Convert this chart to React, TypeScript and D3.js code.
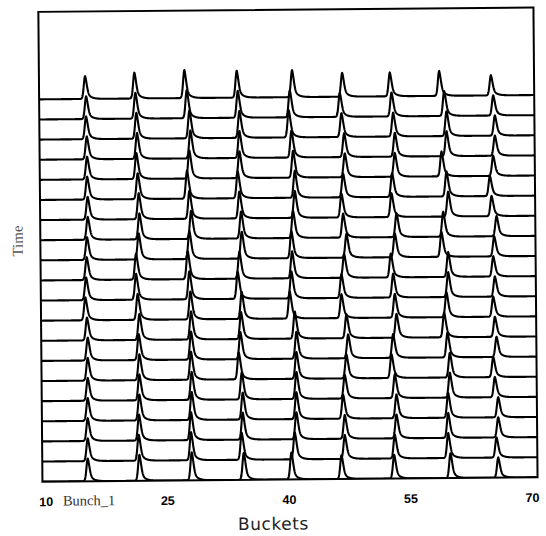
import React from 'react';
import * as d3 from 'd3';

// Tick labels on the bucket axis
const tickValues = [10, 25, 40, 55, 70];
const bunchLabel = 'Bunch_1';
const xTitle = 'Buckets';
const yTitle = 'Time';

// Relative peak heights of the nine bunches
const peakHeights = [0.88, 1.0, 1.08, 1.04, 1.04, 0.92, 0.92, 0.96, 0.78];

// Peak centre (in buckets) of each bunch, one entry per time trace (top -> bottom)
const bunch1 = [15.25, 15.36, 15.33, 15.40, 15.41, 15.40, 15.44, 15.43, 15.32, 15.26, 15.16, 15.05, 15.23, 15.30, 15.27, 15.26, 15.23, 15.21, 15.19, 15.17];
const bunch2 = [21.34, 21.44, 21.54, 21.60, 21.50, 21.64, 21.75, 21.81, 21.70, 21.35, 21.33, 21.51, 21.70, 21.60, 21.66, 21.63, 21.61, 21.55, 21.49, 21.55];
const bunch3 = [27.51, 27.78, 28.09, 28.19, 28.04, 27.73, 28.00, 28.19, 27.96, 27.73, 27.91, 28.02, 28.08, 28.06, 28.03, 28.09, 28.07, 27.97, 27.95, 28.01];
const bunch4 = [33.97, 34.08, 34.26, 34.24, 34.22, 33.99, 34.17, 34.36, 34.42, 34.11, 33.88, 34.35, 34.25, 34.15, 33.92, 34.27, 34.37, 34.35, 34.20, 34.43];
const bunch5 = [40.80, 40.50, 40.35, 40.66, 40.84, 41.03, 41.01, 40.78, 40.55, 40.61, 40.51, 40.28, 40.88, 41.06, 41.04, 41.02, 40.99, 40.97, 40.75, 40.31];
const bunch6 = [46.98, 46.67, 46.85, 47.16, 47.22, 46.99, 46.77, 46.95, 47.34, 47.03, 46.68, 46.66, 47.25, 47.44, 47.21, 46.98, 46.76, 46.94, 46.92, 46.49];
const bunch7 = [52.86, 53.05, 53.23, 53.42, 53.39, 53.04, 52.94, 53.54, 53.31, 52.79, 53.06, 53.24, 53.43, 52.99, 52.77, 53.16, 53.34, 53.32, 53.09, 52.99];
const bunch8 = [58.95, 59.55, 59.82, 59.80, 59.16, 59.75, 59.94, 59.30, 59.07, 59.87, 59.85, 59.62, 59.31, 59.70, 59.97, 59.95, 59.72, 59.70, 59.68, 59.94];
const bunch9 = [65.33, 65.60, 65.78, 65.76, 65.53, 65.10, 65.29, 65.88, 65.57, 65.43, 65.61, 65.38, 65.57, 65.75, 65.32, 65.50, 65.89, 65.87, 65.64, 65.83];

const bunches = [bunch1, bunch2, bunch3, bunch4, bunch5, bunch6, bunch7, bunch8, bunch9];
const nTraces = bunch1.length;

// asymmetric bunch profile: sharp head, longer tail
function profile(d: number): number {
  if (d < 0) return Math.exp(-(d * d) / (2 * 0.17 * 0.17));
  return 0.5 * Math.exp(-(d * d) / (2 * 0.2 * 0.2)) + 0.5 * Math.exp(-d / 0.42);
}

export default function App() {
  const W = 546;
  const H = 536;
  const left = 40.4, right = 535.5, top = 9.7, bottom = 479.5;

  const x = d3.scaleLinear().domain([9.55, 70.65]).range([left, right]);
  const row = d3.scaleLinear().domain([0, nTraces - 1]).range([97.2, bottom]);
  const amp = d3.scaleLinear().domain([0, 1]).range([0, 26]);

  const samples = d3.range(9.55, 70.66, 0.025);

  const traces = d3.range(nTraces).map((r) => {
    const base = row(r);
    const pts = samples.map((s) => {
      let v = 0;
      bunches.forEach((b, k) => {
        v += peakHeights[k] * profile(s - b[r]);
      });
      return [s, base - amp(v)] as [number, number];
    });
    return pts;
  });

  const line = d3.line<[number, number]>().x((d) => x(d[0])).y((d) => d[1]);
  const area = d3
    .area<[number, number]>()
    .x((d) => x(d[0]))
    .y0(bottom + 2)
    .y1((d) => d[1]);

  const bunch1Mean = d3.mean(bunch1) as number;

  return (
    <svg
      width={W}
      height={H}
      style={{ position: 'absolute', left: 0, top: 0, background: '#fff' }}
    >
      <defs>
        <clipPath id="plotClip">
          <rect x={left} y={top} width={right - left} height={bottom - top} />
        </clipPath>
      </defs>
      <g transform="rotate(-0.5 288 245)">
        <g clipPath="url(#plotClip)">
          {traces.map((pts, i) => (
            <g key={i}>
              <path d={area(pts) || ''} fill="#fff" stroke="none" />
              <path
                d={line(pts) || ''}
                fill="none"
                stroke="#000"
                strokeWidth={2.1}
                strokeLinejoin="round"
              />
            </g>
          ))}
        </g>
        <rect
          x={left}
          y={top}
          width={right - left}
          height={bottom - top}
          fill="none"
          stroke="#000"
          strokeWidth={2}
        />
        {tickValues.map((t) => (
          <text
            key={t}
            x={x(t)}
            y={504}
            textAnchor="middle"
            fontFamily="'Liberation Sans', Arial, sans-serif"
            fontWeight="bold"
            fontSize={12.5}
            fill="#000"
          >
            {t}
          </text>
        ))}
        <text
          x={x(bunch1Mean)}
          y={503.6}
          textAnchor="middle"
          fontFamily="'Liberation Serif', 'Times New Roman', serif"
          fontSize={14.5}
          fill="#333"
        >
          {bunchLabel}
        </text>
        <text
          x={271}
          y={529.6}
          textAnchor="middle"
          fontFamily="'DejaVu Sans', sans-serif"
          fontSize={17}
          letterSpacing={0.6}
          fill="#222"
        >
          {xTitle}
        </text>
        <text
          transform="translate(22.7 238.7) rotate(-90)"
          textAnchor="middle"
          fontFamily="'Liberation Serif', 'Times New Roman', serif"
          fontSize={15}
          fill="#555"
        >
          {yTitle}
        </text>
      </g>
    </svg>
  );
}
